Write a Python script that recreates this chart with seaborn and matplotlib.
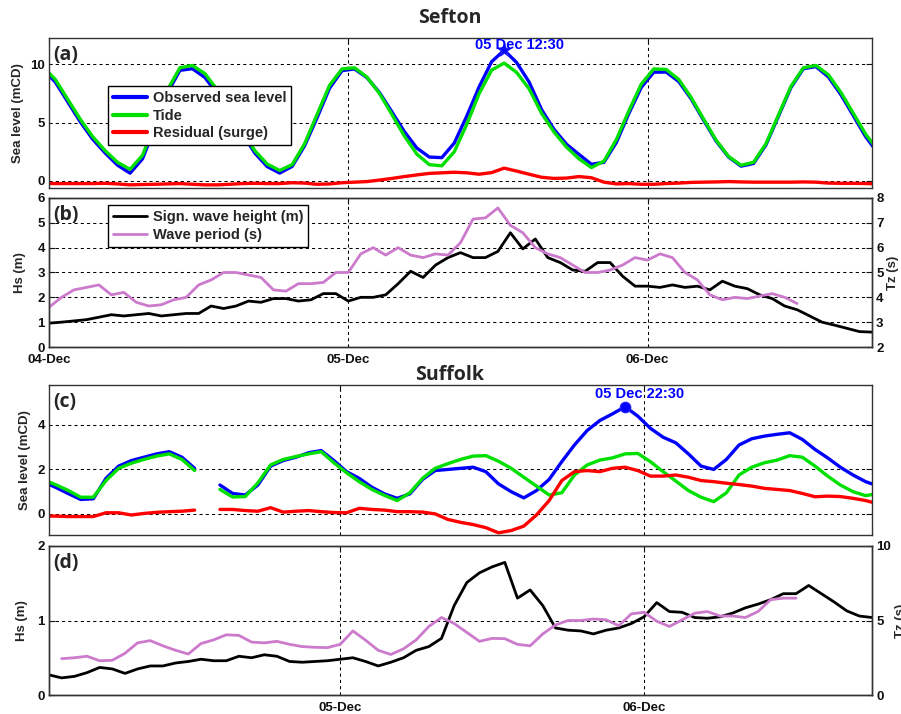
import numpy as np
import pandas as pd
import matplotlib
matplotlib.use("Agg")
import matplotlib.pyplot as plt
import matplotlib.dates as mdates
import seaborn as sns

nan = np.nan

# ---- Sefton sea level (m CD), hourly at half past the hour, from 03-Dec 23:30
sefton_obs = [9.6, 8.48, 6.78, 5.08, 3.58, 2.4, 1.35, 0.67, 1.9, 4.62,
              7.55, 9.48, 9.62, 8.87, 7.47, 5.82, 4.08, 2.4, 1.23, 0.68,
              1.25, 3.02, 5.42, 7.95, 9.45, 9.6, 8.85, 7.58, 5.92, 4.23,
              2.82, 2.05, 2.0, 3.25, 5.55, 8.08, 10.22, 11.2, 10.15, 8.48,
              6.12, 4.42, 3.15, 2.28, 1.43, 1.6, 3.3, 5.78, 8.02, 9.32,
              9.33, 8.52, 7.03, 5.2, 3.42, 2.05, 1.27, 1.5, 3.1, 5.55,
              8.0, 9.62, 9.8, 8.92, 7.4, 5.6, 3.78, 2.35]
sefton_tide = [9.8, 8.7, 7.0, 5.3, 3.8, 2.6, 1.6, 1.0, 2.2, 4.9,
               7.8, 9.7, 9.9, 9.2, 7.8, 6.1, 4.3, 2.6, 1.45, 0.9,
               1.4, 3.2, 5.7, 8.2, 9.6, 9.7, 8.9, 7.5, 5.7, 3.85,
               2.3, 1.4, 1.3, 2.5, 4.85, 7.5, 9.5, 10.1, 9.3, 7.9,
               5.8, 4.2, 2.9, 1.9, 1.15, 1.7, 3.55, 6.0, 8.3, 9.6,
               9.55, 8.7, 7.15, 5.3, 3.5, 2.1, 1.35, 1.6, 3.2, 5.65,
               8.1, 9.7, 9.9, 9.1, 7.6, 5.8, 4.0, 2.6]
sefton_surge = [-0.2, -0.22, -0.22, -0.22, -0.22, -0.2, -0.25, -0.33, -0.3, -0.28,
                -0.25, -0.22, -0.28, -0.33, -0.33, -0.28, -0.22, -0.2, -0.22, -0.22,
                -0.15, -0.18, -0.28, -0.25, -0.15, -0.1, -0.05, 0.08, 0.22, 0.38,
                0.52, 0.65, 0.7, 0.75, 0.7, 0.58, 0.72, 1.1, 0.85, 0.58,
                0.32, 0.22, 0.25, 0.38, 0.28, -0.1, -0.25, -0.22, -0.28, -0.28,
                -0.22, -0.18, -0.12, -0.1, -0.08, -0.05, -0.08, -0.1, -0.1, -0.1,
                -0.1, -0.08, -0.1, -0.18, -0.2, -0.2, -0.22, -0.25]

# ---- Sefton waves, hourly from 04-Dec 00:00
sefton_hs = [0.96, 1.0, 1.05, 1.1, 1.2, 1.3, 1.25, 1.3, 1.35, 1.25,
             1.3, 1.35, 1.35, 1.65, 1.55, 1.65, 1.85, 1.8, 1.95, 1.95,
             1.85, 1.9, 2.15, 2.15, 1.85, 2.0, 2.0, 2.1, 2.55, 3.05,
             2.8, 3.3, 3.6, 3.8, 3.6, 3.6, 3.85, 4.6, 3.95, 4.35,
             3.6, 3.4, 3.1, 3.05, 3.4, 3.4, 2.85, 2.45, 2.45, 2.4,
             2.5, 2.4, 2.45, 2.3, 2.65, 2.45, 2.35, 2.1, 1.95, 1.65,
             1.5, 1.25, 1.0, 0.88, 0.75, 0.62, 0.6]
sefton_tz = [3.6, 4.0, 4.3, 4.4, 4.5, 4.1, 4.2, 3.8, 3.65, 3.7,
             3.9, 4.0, 4.5, 4.7, 5.0, 5.0, 4.9, 4.8, 4.3, 4.25,
             4.55, 4.55, 4.6, 5.0, 5.0, 5.75, 6.0, 5.7, 6.0, 5.7,
             5.6, 5.75, 5.7, 6.2, 7.15, 7.2, 7.6, 6.9, 6.6, 6.0,
             5.75, 5.6, 5.3, 5.0, 5.0, 5.1, 5.3, 5.6, 5.5, 5.75,
             5.6, 5.0, 4.7, 4.1, 3.9, 4.0, 3.95, 4.05, 4.15, 4.0,
             3.75]

# ---- Suffolk sea level (m CD), hourly at half past the hour, from 04-Dec 00:30
suffolk_obs = [1.45, 1.2, 0.92, 0.65, 0.68, 1.6, 2.15, 2.4, 2.55, 2.7,
               2.8, 2.55, 2.05, nan, 1.3, 0.92, 0.85, 1.3, 2.15, 2.4,
               2.55, 2.75, 2.85, 2.4, 1.9, 1.6, 1.2, 0.9, 0.7, 0.9,
               1.55, 1.95, 2.0, 2.05, 2.1, 1.9, 1.35, 1.0, 0.72, 1.05,
               1.55, 2.35, 3.1, 3.75, 4.2, 4.5, 4.82, 4.4, 3.85, 3.45,
               3.2, 2.7, 2.15, 2.0, 2.45, 3.1, 3.38, 3.5, 3.58, 3.65,
               3.35, 2.9, 2.52, 2.1, 1.75, 1.45, 1.25]
suffolk_tide = [1.55, 1.32, 1.06, 0.75, 0.75, 1.5, 2.05, 2.28, 2.45, 2.6,
                2.7, 2.45, 1.95, nan, 1.1, 0.76, 0.78, 1.4, 2.2, 2.45,
                2.58, 2.7, 2.8, 2.3, 1.85, 1.45, 1.1, 0.83, 0.6, 0.95,
                1.6, 2.05, 2.26, 2.45, 2.6, 2.62, 2.37, 2.05, 1.65, 1.25,
                0.85, 0.95, 1.75, 2.2, 2.42, 2.52, 2.7, 2.72, 2.35, 1.9,
                1.48, 1.05, 0.75, 0.55, 0.95, 1.75, 2.1, 2.3, 2.42, 2.62,
                2.55, 2.15, 1.7, 1.3, 1.0, 0.82, 0.92]
suffolk_surge = [-0.1, -0.1, -0.12, -0.12, -0.12, 0.05, 0.05, -0.05, 0.02, 0.07,
                 0.1, 0.12, 0.17, nan, 0.2, 0.2, 0.15, 0.12, 0.28, 0.08,
                 0.12, 0.15, 0.1, 0.06, 0.05, 0.25, 0.2, 0.17, 0.1, 0.1,
                 0.08, 0.0, -0.25, -0.38, -0.48, -0.62, -0.85, -0.75, -0.55, -0.05,
                 0.6, 1.5, 1.9, 1.95, 1.9, 2.05, 2.1, 1.95, 1.7, 1.7,
                 1.75, 1.65, 1.5, 1.45, 1.38, 1.32, 1.25, 1.15, 1.1, 1.05,
                 0.92, 0.77, 0.8, 0.78, 0.7, 0.6, 0.45]

# ---- Suffolk waves: Hs hourly from 04-Dec 01:00, Tz hourly from 04-Dec 02:00
suffolk_hs = [0.27, 0.23, 0.25, 0.3, 0.37, 0.35, 0.29, 0.35, 0.39, 0.39,
              0.43, 0.45, 0.48, 0.46, 0.46, 0.52, 0.5, 0.54, 0.52, 0.45,
              0.44, 0.45, 0.46, 0.48, 0.5, 0.45, 0.39, 0.44, 0.5, 0.6,
              0.65, 0.76, 1.2, 1.51, 1.64, 1.72, 1.78, 1.3, 1.41, 1.2,
              0.9, 0.87, 0.86, 0.82, 0.87, 0.9, 0.96, 1.05, 1.24, 1.12,
              1.11, 1.04, 1.03, 1.05, 1.1, 1.17, 1.22, 1.28, 1.36, 1.36,
              1.47, 1.36, 1.25, 1.13, 1.06, 1.04]
suffolk_tz = [2.44, 2.5, 2.6, 2.3, 2.33, 2.8, 3.5, 3.65, 3.3, 3.0,
              2.75, 3.45, 3.7, 4.04, 4.0, 3.55, 3.5, 3.6, 3.4, 3.25,
              3.2, 3.18, 3.4, 4.3, 3.68, 3.0, 2.72, 3.1, 3.7, 4.6,
              5.2, 4.8, 4.2, 3.6, 3.8, 3.78, 3.4, 3.3, 4.1, 4.7,
              5.0, 5.0, 5.1, 5.05, 4.65, 5.45, 5.55, 4.95, 4.6, 5.04,
              5.49, 5.6, 5.3, 5.3, 5.2, 5.6, 6.4, 6.5, 6.5]

level_names = ["Observed sea level", "Tide", "Residual (surge)"]
level_colors = ["#0000ff", "#00e000", "#ff0000"]
wave_names = ["Sign. wave height (m)", "Wave period (s)"]
wave_colors = ["#000000", "#cc7acc"]
site_names = ["Sefton", "Suffolk"]
panel_tags = ["(a)", "(b)", "(c)", "(d)"]

sns.set_theme(style="white")
plt.rcParams.update({
    "font.weight": "bold",
    "axes.labelweight": "bold",
    "axes.edgecolor": "#333333",
    "axes.linewidth": 1.0,
    "xtick.color": "#111111",
    "ytick.color": "#111111",
})
plt.rcParams["font.family"] = ["Liberation Sans", "DejaVu Sans"]
TITLE_FONT = ["Open Sans", "DejaVu Sans"]


def level_frame(start, obs, tide, surge):
    t = pd.date_range(start, periods=len(obs), freq="h")
    parts = []
    for name, vals in zip(level_names, (obs, tide, surge)):
        v = np.asarray(vals, dtype=float)
        seg = np.cumsum(np.isnan(v))
        d = pd.DataFrame({"time": t, "level": v, "series": name, "segment": seg})
        parts.append(d[~np.isnan(v)])
    return pd.concat(parts, ignore_index=True)


def wave_frame(start, values):
    return pd.DataFrame({"time": pd.date_range(start, periods=len(values), freq="h"),
                         "value": values})


def style_axis(ax, xlim, show_dates, right_ticks=True):
    ax.set_xlim(*xlim)
    ax.xaxis.set_major_locator(mdates.DayLocator())
    ax.xaxis.set_major_formatter(mdates.DateFormatter("%d-%b"))
    ax.grid(True, color="black", linestyle=(0, (3, 3)), linewidth=0.75)
    ax.tick_params(direction="in", length=4, width=0.8, labelsize=9.5, pad=3,
                   top=True, right=right_ticks, labelbottom=show_dates)
    ax.tick_params(axis="x", pad=5)
    for lbl in ax.get_xticklabels() + ax.get_yticklabels():
        lbl.set_fontweight("bold")
    ax.set_xlabel("")
    for s in ax.spines.values():
        s.set_color("#333333")
        s.set_linewidth(1.0)


def mark_peak(ax, df, marker, size, offset):
    obs = df[df["series"] == level_names[0]]
    row = obs.loc[obs["level"].idxmax()]
    sns.scatterplot(x=[row["time"]], y=[row["level"]], ax=ax, marker=marker, s=size,
                    color="#0000ff", edgecolor="#2020ff", linewidth=1.0,
                    zorder=6, legend=False)
    ax.annotate(f"{row['time']:%d %b %H:%M}",
                xy=(mdates.date2num(row["time"]), row["level"]),
                xytext=offset, textcoords="offset points", ha="left", va="bottom",
                color="#0000ff", fontsize=10.5, fontweight="bold",
                annotation_clip=False, zorder=7)


fig = plt.figure(figsize=(9.01, 7.14), dpi=100)
L, W = 0.0544, 0.9134
ax_a = fig.add_axes([L, 0.7367, W, 0.2101])
ax_b = fig.add_axes([L, 0.5140, W, 0.2087])
ax_c = fig.add_axes([L, 0.2507, W, 0.2101])
ax_d = fig.add_axes([L, 0.0266, W, 0.2087])

sefton_x = (pd.Timestamp("2013-12-04 00:00"), pd.Timestamp("2013-12-06 18:00"))
suffolk_x = (pd.Timestamp("2013-12-04 01:00"), pd.Timestamp("2013-12-06 18:00"))

# ---------------- (a) Sefton sea level
df_a = level_frame("2013-12-03 23:30", sefton_obs, sefton_tide, sefton_surge)
sns.lineplot(data=df_a, x="time", y="level", hue="series", hue_order=level_names,
             palette=level_colors, units="segment", estimator=None,
             linewidth=2.4, ax=ax_a, legend=True)
ax_a.set_ylim(-0.6, 12.25)
ax_a.set_yticks([0, 5, 10])
style_axis(ax_a, sefton_x, show_dates=False)
ax_a.set_ylabel("Sea level (mCD)", fontsize=9.5)
ax_a.yaxis.set_label_coords(-0.030, 0.5)
sns.move_legend(ax_a, "upper left", bbox_to_anchor=(0.0717, 0.68), title=None,
                frameon=True, fancybox=False, edgecolor="black", framealpha=1,
                borderaxespad=0, prop={"weight": "bold", "size": 10.5},
                handlelength=2.3, handletextpad=0.4, labelspacing=0.25,
                borderpad=0.35)
for h in ax_a.get_legend().legend_handles:
    h.set_linewidth(3)
mark_peak(ax_a, df_a, "*", 90, (-21, -1))

# ---------------- (b) Sefton waves
hs_b = wave_frame("2013-12-04 00:00", sefton_hs)
tz_b = wave_frame("2013-12-04 00:00", sefton_tz)
sns.lineplot(data=hs_b, x="time", y="value", color=wave_colors[0], linewidth=2.0, ax=ax_b)
ax_b.set_ylim(0, 6)
ax_b.set_yticks(range(0, 7))
style_axis(ax_b, sefton_x, show_dates=True, right_ticks=False)
ax_b.set_ylabel("Hs (m)", fontsize=9.5)
ax_b.yaxis.set_label_coords(-0.028, 0.5)
ax_b2 = ax_b.twinx()
sns.lineplot(data=tz_b, x="time", y="value", color=wave_colors[1], linewidth=2.0, ax=ax_b2)
ax_b2.set_ylim(2, 8)
ax_b2.set_yticks(range(2, 9))
ax_b2.tick_params(direction="in", length=4, width=0.8, labelsize=9.5, pad=3)
for lbl in ax_b2.get_yticklabels():
    lbl.set_fontweight("bold")
ax_b2.set_ylabel("Tz (s)", fontsize=9.5)
ax_b2.yaxis.set_label_coords(1.018, 0.5)
ax_b2.set_xlabel("")
ax_b2.set_xlim(*sefton_x)
ax_b2.legend([ax_b.get_lines()[0], ax_b2.get_lines()[0]], wave_names,
             loc="upper left", bbox_to_anchor=(0.0717, 0.953), frameon=True,
             fancybox=False, edgecolor="black", framealpha=1, borderaxespad=0,
             prop={"weight": "bold", "size": 10.5}, handlelength=2.3,
             handletextpad=0.4, labelspacing=0.25, borderpad=0.35)

# ---------------- (c) Suffolk sea level
df_c = level_frame("2013-12-04 00:30", suffolk_obs, suffolk_tide, suffolk_surge)
sns.lineplot(data=df_c, x="time", y="level", hue="series", hue_order=level_names,
             palette=level_colors, units="segment", estimator=None,
             linewidth=2.4, ax=ax_c, legend=False)
ax_c.set_ylim(-0.95, 5.8)
ax_c.set_yticks([0, 2, 4])
style_axis(ax_c, suffolk_x, show_dates=False)
ax_c.set_ylabel("Sea level (mCD)", fontsize=9.5)
ax_c.yaxis.set_label_coords(-0.022, 0.5)
mark_peak(ax_c, df_c, "o", 55, (-22, 4))

# ---------------- (d) Suffolk waves
hs_d = wave_frame("2013-12-04 01:00", suffolk_hs)
tz_d = wave_frame("2013-12-04 02:00", suffolk_tz)
sns.lineplot(data=hs_d, x="time", y="value", color=wave_colors[0], linewidth=2.0, ax=ax_d)
ax_d.set_ylim(0, 2)
ax_d.set_yticks([0, 1, 2])
style_axis(ax_d, suffolk_x, show_dates=True, right_ticks=False)
ax_d.set_ylabel("Hs (m)", fontsize=9.5)
ax_d.yaxis.set_label_coords(-0.0255, 0.5)
ax_d2 = ax_d.twinx()
sns.lineplot(data=tz_d, x="time", y="value", color=wave_colors[1], linewidth=2.0, ax=ax_d2)
ax_d2.set_ylim(0, 10)
ax_d2.set_yticks([0, 5, 10])
ax_d2.tick_params(direction="in", length=4, width=0.8, labelsize=9.5, pad=3)
for lbl in ax_d2.get_yticklabels():
    lbl.set_fontweight("bold")
ax_d2.set_ylabel("Tz (s)", fontsize=9.5)
ax_d2.yaxis.set_label_coords(1.028, 0.5)
ax_d2.set_xlabel("")
ax_d2.set_xlim(*suffolk_x)

# panel tags and site titles
for ax, tag in zip([ax_a, ax_b, ax_c, ax_d], panel_tags):
    ax.text(0.005, 0.955, tag, transform=ax.transAxes, ha="left", va="top",
            fontsize=14, fontweight="bold", family=TITLE_FONT, zorder=8)
fig.text(0.4994, 1 - 18 / 714, site_names[0], ha="center", va="center",
         fontsize=14, fontweight="bold", family=TITLE_FONT)
fig.text(0.4994, 1 - 375 / 714, site_names[1], ha="center", va="center",
         fontsize=14, fontweight="bold", family=TITLE_FONT)

fig.savefig("out.png", dpi=100)
